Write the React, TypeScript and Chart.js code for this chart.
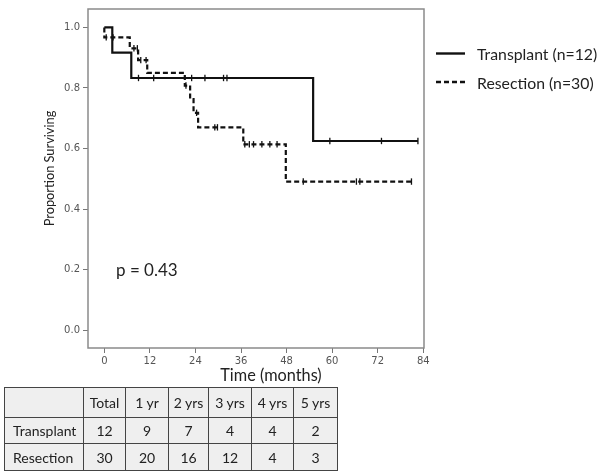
import React, { useEffect, useRef } from "react";
import { Chart, registerables } from "chart.js";

Chart.register(...registerables);

// ---- data ----
const transplantTimes = [0, 2.1, 7.1, 55.0, 82.6];
const transplantSurv = [1.0, 0.917, 0.833, 0.625, 0.625];
const transplantCensor = [9.0, 13.0, 23.0, 26.5, 31.4, 32.3, 59.4, 73.0, 82.6];

const resectionTimes = [0, 0, 6.7, 8.9, 11.3, 21.2, 22.6, 23.5, 24.7, 36.6, 47.8, 81.3];
const resectionSurv = [1.0, 0.967, 0.931, 0.892, 0.85, 0.808, 0.763, 0.718, 0.67, 0.614, 0.491, 0.491];
const resectionCensor = [0.5, 2.3, 7.8, 8.7, 9.6, 11.0, 21.5, 24.3, 29.1, 29.8, 37.0, 38.2, 39.3, 41.5, 43.6, 45.5, 52.4, 66.4, 67.3, 80.9];

const xTicks = [0, 12, 24, 36, 48, 60, 72, 84];
const yTicks = [0, 0.2, 0.4, 0.6, 0.8, 1.0];

const seriesLabels = ["Transplant (n=12)", "Resection (n=30)"];
const pValueText = "p = 0.43";
const xTitle = "Time (months)";
const yTitle = "Proportion Surviving";

const tableHeader = ["", "Total", "1 yr", "2 yrs", "3 yrs", "4 yrs", "5 yrs"];
const tableRowNames = ["Transplant", "Resection"];
const transplantAtRisk = [12, 9, 7, 4, 4, 2];
const resectionAtRisk = [30, 20, 16, 12, 4, 3];

function survAt(times: number[], surv: number[], t: number) {
  let s = surv[0];
  for (let i = 0; i < times.length; i++) if (times[i] <= t) s = surv[i];
  return s;
}

const FONT = "Lato, 'Open Sans', sans-serif";

const overlayPlugin = {
  id: "overlay",
  afterDraw(chart: any) {
    const { ctx, chartArea } = chart;
    ctx.save();
    // frame
    ctx.strokeStyle = "#8a8a8a";
    ctx.lineWidth = 1.5;
    ctx.strokeRect(chartArea.left, chartArea.top, chartArea.right - chartArea.left, chartArea.bottom - chartArea.top);

    ctx.fillStyle = "#222";
    // y title
    ctx.save();
    ctx.translate(50, 168.5);
    ctx.rotate(-Math.PI / 2);
    ctx.font = `12.8px ${FONT}`;
    ctx.textAlign = "center";
    ctx.textBaseline = "middle";
    ctx.fillText(yTitle, 0, 0);
    ctx.restore();

    // x title
    ctx.font = `16.3px ${FONT}`;
    ctx.textAlign = "center";
    ctx.textBaseline = "middle";
    ctx.fillText(xTitle, 271, 376);

    // p value
    ctx.font = `17px ${FONT}`;
    ctx.textAlign = "left";
    ctx.fillText(pValueText, 116, 271);

    // legend
    const rows = [
      { y: 53.5, dash: [] as number[] },
      { y: 82, dash: [5, 3] },
    ];
    rows.forEach((r, i) => {
      ctx.beginPath();
      ctx.setLineDash(r.dash);
      ctx.strokeStyle = "#111";
      ctx.lineWidth = 2.4;
      ctx.moveTo(436, r.y);
      ctx.lineTo(465, r.y);
      ctx.stroke();
      ctx.setLineDash([]);
      ctx.font = `15.8px ${FONT}`;
      ctx.textAlign = "left";
      ctx.textBaseline = "middle";
      ctx.fillStyle = "#222";
      ctx.fillText(seriesLabels[i], 477, r.y + 1.5);
    });
    ctx.restore();
  },
};

export default function App() {
  const ref = useRef<HTMLCanvasElement>(null);

  useEffect(() => {
    if (!ref.current) return;
    const tLine = transplantTimes.map((t, i) => ({ x: t, y: transplantSurv[i] }));
    const rLine = resectionTimes.map((t, i) => ({ x: t, y: resectionSurv[i] }));
    const tCens = transplantCensor.map((t) => ({ x: t, y: survAt(transplantTimes, transplantSurv, t) }));
    const rCens = resectionCensor.map((t) => ({ x: t, y: survAt(resectionTimes, resectionSurv, t) }));

    const chart = new Chart(ref.current, {
      type: "line",
      data: {
        datasets: [
          {
            data: tLine,
            stepped: "before",
            borderColor: "#111",
            borderWidth: 2.2,
            pointRadius: 0,
            fill: false,
          } as any,
          {
            data: rLine,
            stepped: "before",
            borderColor: "#111",
            borderWidth: 2.2,
            borderDash: [5, 3],
            pointRadius: 0,
            fill: false,
          } as any,
          {
            data: tCens,
            showLine: false,
            pointStyle: "line",
            rotation: 90,
            pointRadius: 3.2,
            pointBorderWidth: 1.3,
            pointBorderColor: "#111",
            borderColor: "#111",
          } as any,
          {
            data: rCens,
            showLine: false,
            pointStyle: "line",
            rotation: 90,
            pointRadius: 3.2,
            pointBorderWidth: 1.3,
            pointBorderColor: "#111",
            borderColor: "#111",
          } as any,
        ],
      },
      options: {
        animation: false,
        responsive: false,
        maintainAspectRatio: false,
        layout: { padding: { left: 0, top: 4, right: 176, bottom: 0 } },
        plugins: { legend: { display: false }, tooltip: { enabled: false } },
        scales: {
          x: {
            type: "linear",
            min: -4.3,
            max: 84.2,
            afterBuildTicks: (s: any) => {
              s.ticks = xTicks.map((v) => ({ value: v }));
            },
            afterFit: (s: any) => {
              s.height = 126;
            },
            grid: { drawOnChartArea: false, drawTicks: true, tickLength: 5, color: "#777" },
            border: { display: false },
            ticks: {
              padding: 2,
              color: "#555",
              font: { family: "'DejaVu Sans'", size: 10 },
              maxRotation: 0,
              callback: (v: any) => String(v),
            },
          },
          y: {
            type: "linear",
            min: -0.0586,
            max: 1.0608,
            afterBuildTicks: (s: any) => {
              s.ticks = yTicks.map((v) => ({ value: v }));
            },
            afterFit: (s: any) => {
              s.width = 88;
            },
            grid: { drawOnChartArea: false, drawTicks: true, tickLength: 5, color: "#777" },
            border: { display: false },
            ticks: {
              padding: 3,
              color: "#555",
              font: { family: "'DejaVu Sans'", size: 10 },
              callback: (v: any) => Number(v).toFixed(1),
            },
          },
        },
      },
      plugins: [overlayPlugin],
    } as any);
    return () => chart.destroy();
  }, []);

  const colW = [79, 42, 43, 40, 43, 42, 44];
  const rowH = [30, 26, 27];
  const cell: React.CSSProperties = {
    border: "1.5px solid #444",
    background: "#efefef",
    padding: 0,
    textAlign: "center",
    verticalAlign: "middle",
    fontFamily: FONT,
    fontSize: 14,
    color: "#222",
    whiteSpace: "nowrap",
    overflow: "hidden",
  };
  const rows = [transplantAtRisk, resectionAtRisk];

  return (
    <div style={{ position: "absolute", left: 0, top: 0, width: 600, height: 474, background: "#fff", overflow: "hidden" }}>
      <canvas ref={ref} width={600} height={474} style={{ position: "absolute", left: 0, top: 0, width: 600, height: 474 }} />
      <table
        style={{
          position: "absolute",
          left: 4,
          top: 387,
          borderCollapse: "collapse",
          tableLayout: "fixed",
          width: colW.reduce((a, b) => a + b, 0),
        }}
      >
        <colgroup>
          {colW.map((w, i) => (
            <col key={i} style={{ width: w }} />
          ))}
        </colgroup>
        <tbody>
          <tr style={{ height: rowH[0] }}>
            {tableHeader.map((h, i) => (
              <td key={i} style={cell}>
                {h}
              </td>
            ))}
          </tr>
          {rows.map((r, ri) => (
            <tr key={ri} style={{ height: rowH[ri + 1] }}>
              <td style={{ ...cell, textAlign: "left", paddingLeft: 8 }}>{tableRowNames[ri]}</td>
              {r.map((v, i) => (
                <td key={i} style={cell}>
                  {v}
                </td>
              ))}
            </tr>
          ))}
        </tbody>
      </table>
    </div>
  );
}
